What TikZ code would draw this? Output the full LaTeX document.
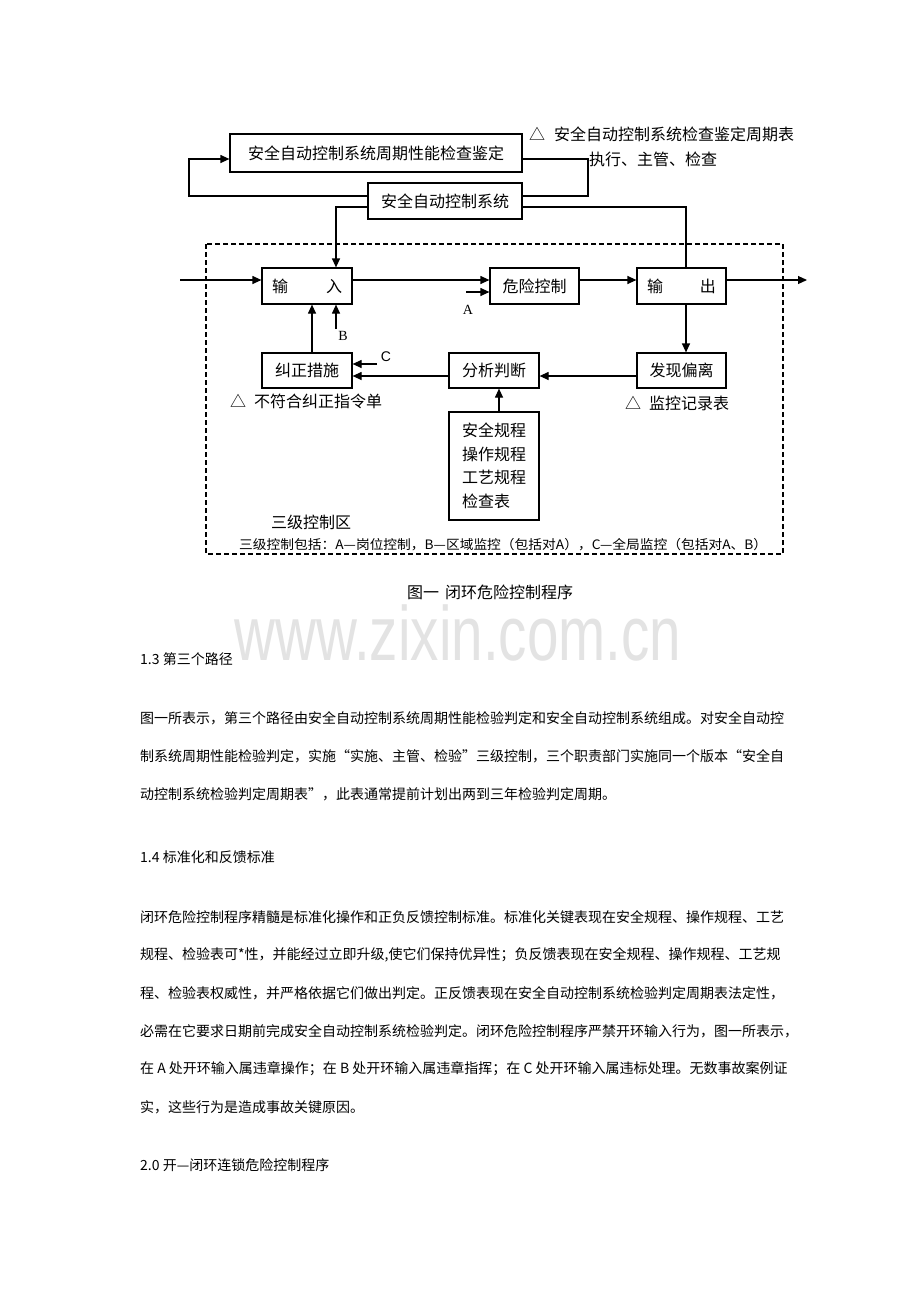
\documentclass[tikz,border=0pt]{standalone}
\usepackage{fontspec}
\setmainfont{Noto Sans CJK SC}
\newfontfamily\wmfont{Liberation Sans}
\newfontfamily\serifA{Liberation Serif}
\usetikzlibrary{arrows.meta}
\begin{document}
\begin{tikzpicture}[x=1pt,y=-1pt,
  box/.style={draw,line width=1.2pt,inner sep=0pt,font=\fontsize{16}{18}\selectfont},
  conn/.style={line width=1.2pt},
  arr/.style={line width=1.2pt,-{Triangle[length=9pt,width=8pt]}},
  lbl/.style={inner sep=0pt,font=\fontsize{16}{18}\selectfont},
  body/.style={inner sep=0pt,anchor=west,font=\fontsize{14}{16}\selectfont}]
\useasboundingbox (0,0) rectangle (920,1302);
\fill[white] (0,0) rectangle (920,1302);
% watermark
\node[inner sep=0pt,anchor=base,text=black!11] (wm) at (458,660)
  {\wmfont\fontsize{77}{80}\selectfont\scalebox{0.735}[1]{www.zixin.com.cn}};
% boxes
\node[box,minimum width=292pt,minimum height=38pt] (chk) at (376,153) {安全自动控制系统周期性能检查鉴定};
\node[box,minimum width=154pt,minimum height=36pt] (sys) at (445,201) {安全自动控制系统};
\node[box,minimum width=90pt,minimum height=36pt] (in) at (307,286) {输\hspace{38pt}入};
\node[box,minimum width=89pt,minimum height=36pt] (risk) at (534.5,286) {危险控制};
\node[box,minimum width=89pt,minimum height=36pt] (out) at (681.5,286) {输\hspace{37pt}出};
\node[box,minimum width=90pt,minimum height=35pt] (corr) at (307,370.5) {纠正措施};
\node[box,minimum width=90pt,minimum height=35pt] (anal) at (494,370.5) {分析判断};
\node[box,minimum width=89pt,minimum height=35pt] (dev) at (681.5,370.5) {发现偏离};
\node[box,minimum width=90pt,minimum height=108pt,align=left,font=\fontsize{16}{23.5}\selectfont] (reg) at (494,466)
  {安全规程\\操作规程\\工艺规程\\检查表};
% dashed zone
\draw[line width=1.1pt,dash pattern=on 5pt off 3pt] (206,244) rectangle (783,554);
% coordinates for free ends
\coordinate (src) at (180,280);
\coordinate (snk) at (807,280);
\coordinate (aS) at (466,292);
\coordinate (bS) at (336,329);
\coordinate (cS) at (377,364);
% top loop
\draw[arr] ([yshift=5pt]sys.west) -| (189,159) -- ([yshift=-6pt]chk.west);
\draw[conn] ([yshift=-6pt]chk.east) -| (588,196) -- ([yshift=5pt]sys.east);
\draw[arr] ([yshift=-6pt]sys.west) -| ([xshift=29pt]in.north);
\draw[conn] ([yshift=-6pt]sys.east) -| ([xshift=4.5pt]out.north);
% main flow
\draw[arr] (src) -- ([yshift=6pt]in.west);
\draw[arr] ([yshift=6pt]in.east) -- ([yshift=6pt]risk.west);
\draw[arr] ([yshift=6pt]risk.east) -- ([yshift=6pt]out.west);
\draw[arr] ([yshift=6pt]out.east) -- (snk);
\draw[arr] (aS) -- (aS -| risk.west);
\draw[arr] ([xshift=4.5pt]out.south) -- ([xshift=4.5pt]dev.north);
\draw[arr] ([yshift=-5.5pt]dev.west) -- ([yshift=-5.5pt]anal.east);
\draw[arr] ([yshift=-5.5pt]anal.west) -- ([yshift=-5.5pt]corr.east);
\draw[arr] (cS) -- (cS -| corr.east);
\draw[arr] ([xshift=5pt]corr.north) -- ([xshift=5pt]in.south);
\draw[arr] (bS) -- (bS |- in.south);
\draw[arr] ([xshift=5pt]reg.north) -- ([xshift=5pt]anal.south);
% labels
\node[lbl,anchor=west] (t1) at (529,134) {△\hspace{9pt}安全自动控制系统检查鉴定周期表};
\node[lbl,anchor=west] (t2) at (589,159) {执行、主管、检查};
\node[inner sep=0pt,font=\serifA\fontsize{14}{16}\selectfont] (la) at (468,310) {A};
\node[inner sep=0pt,font=\serifA\fontsize{14}{16}\selectfont] (lb) at (343,336) {B};
\node[inner sep=0pt,font=\wmfont\fontsize{14}{16}\selectfont] (lc) at (386,357) {C};
\node[lbl,anchor=west] (t3) at (230,401) {△\hspace{8pt}不符合纠正指令单};
\node[lbl,anchor=west] (t4) at (625,403) {△\hspace{8pt}监控记录表};
\node[lbl,anchor=west] (t5) at (271,522) {三级控制区};
\node[inner sep=0pt,anchor=west,font=\fontsize{13}{14}\selectfont] (t6) at (239,545)
  {\resizebox{528pt}{\height}{三级控制包括：A—岗位控制，B—区域监控（包括对A），C—全局监控（包括对A、B）}};
\node[lbl] (cap) at (490,592) {图一\hspace{6pt}闭环危险控制程序};
% body text
\node[body] (h13) at (140,659) {1.3 第三个路径};
\node[body] (p1a) at (140,718) {图一所表示，第三个路径由安全自动控制系统周期性能检验判定和安全自动控制系统组成。对安全自动控};
\node[body] (p1b) at (140,756) {制系统周期性能检验判定，实施“实施、主管、检验”三级控制，三个职责部门实施同一个版本“安全自};
\node[body] (p1c) at (140,794) {动控制系统检验判定周期表”，此表通常提前计划出两到三年检验判定周期。};
\node[body] (h14) at (140,857) {1.4 标准化和反馈标准};
\node[body] (p2a) at (140,917) {闭环危险控制程序精髓是标准化操作和正负反馈控制标准。标准化关键表现在安全规程、操作规程、工艺};
\node[body] (p2b) at (140,955) {规程、检验表可*性，并能经过立即升级,使它们保持优异性；负反馈表现在安全规程、操作规程、工艺规};
\node[body] (p2c) at (140,993) {程、检验表权威性，并严格依据它们做出判定。正反馈表现在安全自动控制系统检验判定周期表法定性，};
\node[body] (p2d) at (140,1031) {必需在它要求日期前完成安全自动控制系统检验判定。闭环危险控制程序严禁开环输入行为，图一所表示，};
\node[body] (p2e) at (140,1069) {在 A 处开环输入属违章操作；在 B 处开环输入属违章指挥；在 C 处开环输入属违标处理。无数事故案例证};
\node[body] (p2f) at (140,1107) {实，这些行为是造成事故关键原因。};
\node[body] (h20) at (140,1165) {2.0 开—闭环连锁危险控制程序};
\end{tikzpicture}
\end{document}
